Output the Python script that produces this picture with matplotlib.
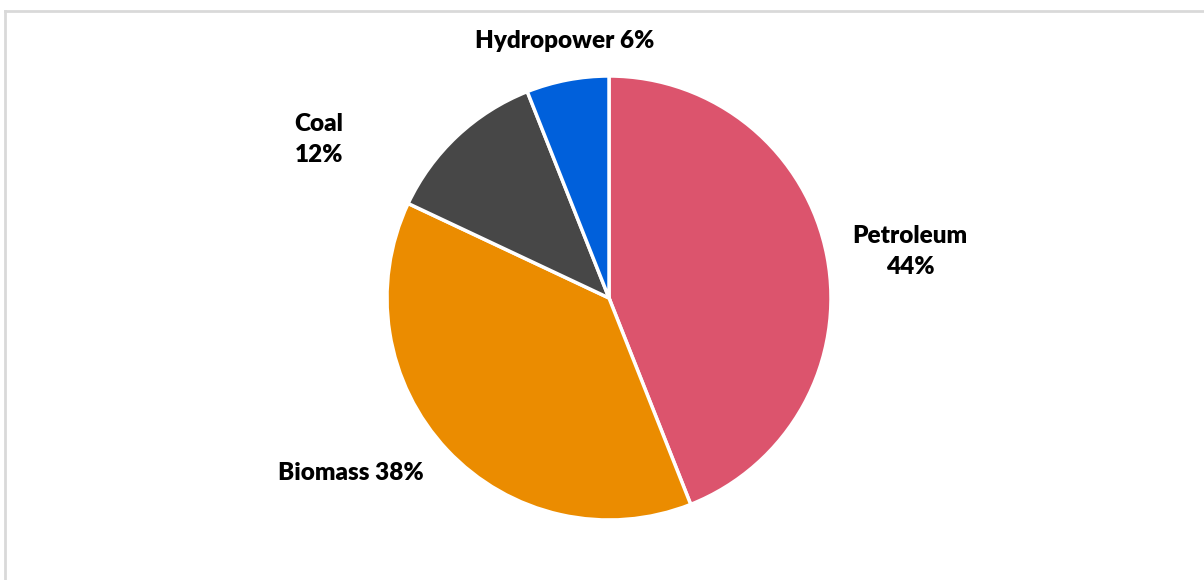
import matplotlib
matplotlib.use("Agg")
import matplotlib.pyplot as plt
from matplotlib.lines import Line2D

# Energy sources and their shares (%)
sources = ["Petroleum", "Biomass", "Coal", "Hydropower"]
shares = [44, 38, 12, 6]
colors = ["#DC546D", "#EB8C00", "#474747", "#0060DB"]
label_texts = ["Petroleum\n44%", "Biomass 38%", "Coal\n12%", "Hydropower 6%"]
# label anchor points in units of the pie radius
label_pos = [(1.357, 0.208), (-1.163, -0.787), (-1.308, 0.715), (-0.20, 1.158)]

W, H = 1204, 580
fig = plt.figure(figsize=(W / 100, H / 100), dpi=100)

# chart frame (top and left edges visible)
fig.add_artist(Line2D([5 / W, 5 / W], [0, 1 - 11 / H], color="#D9D9D9", lw=2))
fig.add_artist(Line2D([5 / W, 1], [1 - 11 / H, 1 - 11 / H], color="#D9D9D9", lw=2))

cx, cy, r = 609, 298, 222
ax = fig.add_axes([(cx - r) / W, (H - cy - r) / H, 2 * r / W, 2 * r / H])
ax.pie(shares, colors=colors, startangle=90, counterclock=False,
       wedgeprops=dict(edgecolor="white", linewidth=2.5))
ax.set_xlim(-1, 1)
ax.set_ylim(-1, 1)
ax.set_aspect("equal")
ax.axis("off")

for txt, (x, y) in zip(label_texts, label_pos):
    ax.text(x, y, txt, ha="center", va="center", fontsize=17.5,
            fontweight="heavy", family="Lato", linespacing=1.5)

fig.savefig("out.png", dpi=100)
